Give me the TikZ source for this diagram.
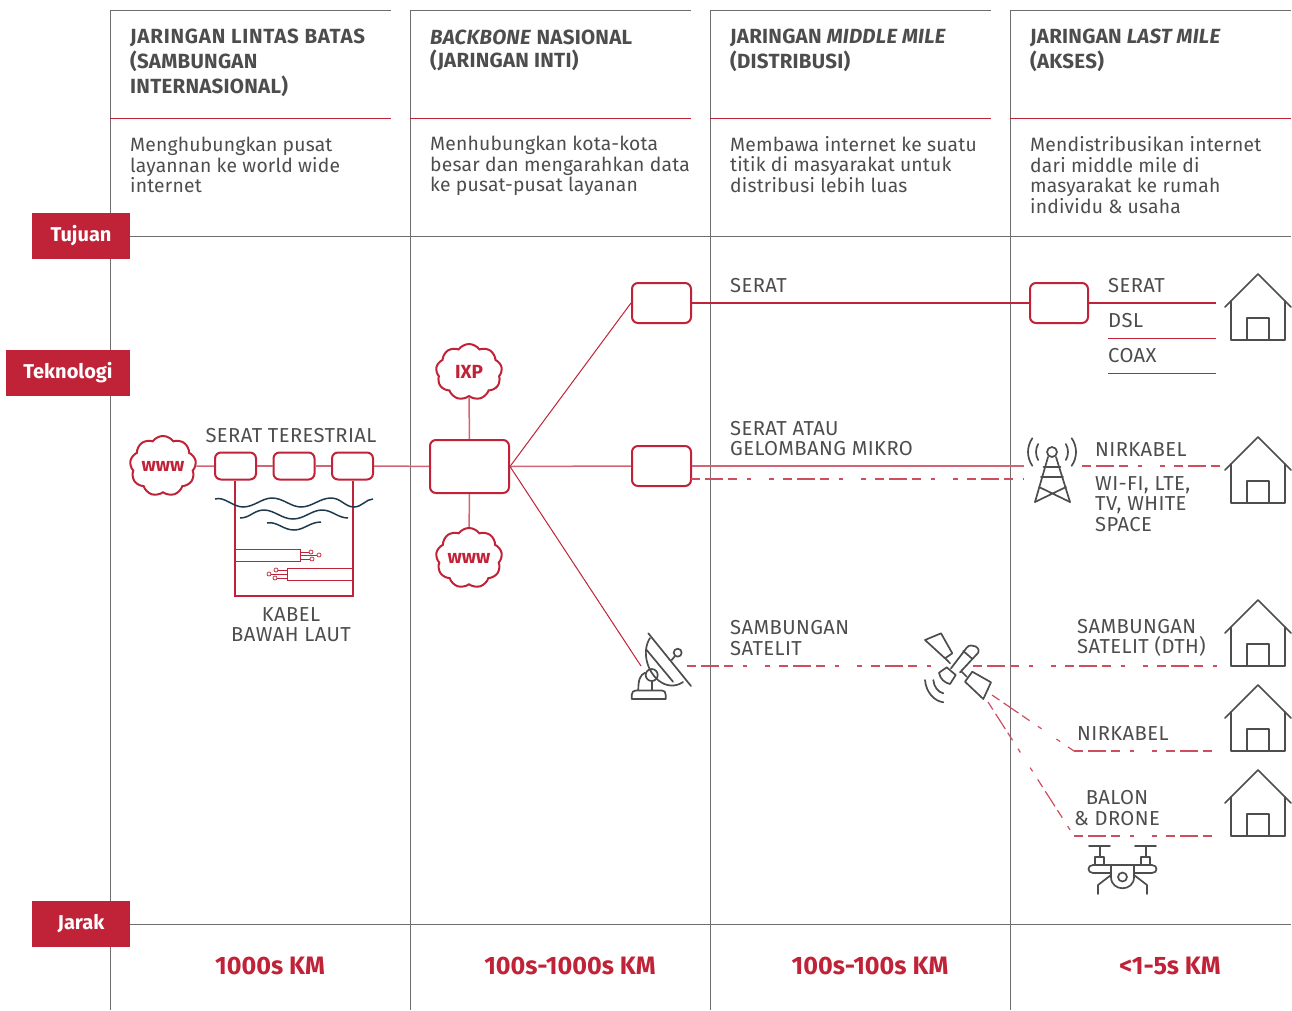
\documentclass[tikz,border=0pt]{standalone}
\usepackage{fontspec}
\setmainfont{Fira Sans}
\usetikzlibrary{shapes,positioning,calc}

\definecolor{tagred}{HTML}{C02237}
\definecolor{gridgray}{HTML}{6E6E6E}
\definecolor{icongray}{HTML}{4D4D4D}
\definecolor{wavenavy}{HTML}{1F3A4D}

\tikzset{
    grid/.style={gridgray, line width=0.9pt},
    thinred/.style={tagred, line width=1pt},
    palered/.style={tagred!70, line width=1.5pt},
    fibre/.style={tagred, line width=2pt},
    wireless/.style={tagred!80, line width=1.2pt, dash pattern=on 9pt off 5pt on 18pt off 4.5pt on 9pt off 10pt on 4.5pt off 18pt on 4.5pt off 9.5pt},
    wave/.style={wavenavy, line width=1.5pt},
    icon/.style={icongray, line width=1.7pt, line cap=round, line join=round},
    tag/.style={fill=tagred, text=white, font=\fontsize{20}{22}\selectfont\bfseries, inner sep=0pt, minimum height=46pt},
    head/.style={anchor=west, inner sep=0pt, align=left, text=icongray, font=\fontsize{20.5}{25}\selectfont\bfseries\addfontfeatures{LetterSpace=1.2}},
    desc/.style={anchor=west, inner sep=0pt, align=left, text=icongray, font=\fontsize{19.3}{20.7}\selectfont\addfontfeatures{LetterSpace=1}},
    lbl/.style={anchor=west, inner sep=0pt, yshift=-1pt, align=left, text=icongray, font=\fontsize{20.2}{20.7}\selectfont\addfontfeatures{LetterSpace=2}},
    clbl/.style={lbl, anchor=center, align=center},
    km/.style={inner sep=0pt, text=tagred, font=\fontsize{25.2}{27}\selectfont\bfseries},
    hub/.style={draw=tagred, line width=2pt, rounded corners=6pt, inner sep=0pt},
    puff/.style={draw=tagred, line width=2pt, cloud, cloud puffs=9, cloud puff arc=110, aspect=1.15, inner sep=0pt,
        minimum width=66pt, minimum height=56pt, text=tagred, font=\fontsize{19}{21}\selectfont\bfseries},
    house/.pic={
        \draw[icon] (-33,33) -- (0,0) -- (33,33);
        \draw[icon] (-27,27) -- (-27,66) -- (27,66) -- (27,27);
        \draw[icon] (-11,66) -- (-11,44) -- (11,44) -- (11,66);
    }
}

\begin{document}
\begin{tikzpicture}[x=1pt,y=-1pt]
    \useasboundingbox (0,0) rectangle (1292,1010);

    % Column rules
    \draw[grid] (110.5,10) -- (110.5,1010);
    \draw[grid] (410.5,10) -- (410.5,1010);
    \draw[grid] (710.5,10) -- (710.5,1010);
    \draw[grid] (1010.5,10) -- (1010.5,1010);
    \draw[grid, line width=0.6pt] (110,10) -- (391,10);
    \draw[grid, line width=0.6pt] (410,10) -- (691,10);
    \draw[grid, line width=0.6pt] (710,10) -- (991,10);
    \draw[grid, line width=0.6pt] (1010,10) -- (1291,10);
    \draw[thinred] (110,118) -- (391,118);
    \draw[thinred] (410,118) -- (691,118);
    \draw[thinred] (710,118) -- (991,118);
    \draw[thinred] (1010,118) -- (1291,118);

    % Row tags
    \node[tag, minimum width=98pt] (tujuan) at (81,236) {Tujuan};
    \node[tag, minimum width=124pt] (teknologi) at (68,373) {Teknologi};
    \node[tag, minimum width=98pt] (jarak) at (81,924) {Jarak};
    \coordinate (tujuanEnd) at (1291,236);
    \coordinate (jarakEnd) at (1291,924);
    \draw[grid] (tujuan.east) -- (tujuanEnd);
    \draw[grid] (jarak.east) -- (jarakEnd);

    % Headings
    \node[head] (headA) at (130,63) {{\addfontfeatures{LetterSpace=3.8}JARINGAN LINTAS BATAS}\\(SAMBUNGAN\\INTERNASIONAL)};
    \node[head] (headB) at (430,50) {\textit{BACKBONE} NASIONAL\\[-2pt](JARINGAN INTI)};
    \node[head] (headC) at (730,50) {JARINGAN \textit{MIDDLE MILE}\\(DISTRIBUSI)};
    \node[head] (headD) at (1030,50) {JARINGAN \textit{LAST MILE}\\(AKSES)};

    % Descriptions
    \node[desc] (descA) at (130,165) {Menghubungkan pusat\\layannan ke world wide\\internet};
    \node[desc] (descB) at (430,166) {Menhubungkan kota-kota\\besar dan mengarahkan data\\ke pusat-pusat layanan};
    \node[desc] (descC) at (730,164.5) {Membawa internet ke suatu\\titik di masyarakat untuk\\distribusi lebih luas};
    \node[desc] (descD) at (1030,175) {Mendistribusikan internet\\dari middle mile di\\masyarakat ke rumah\\individu \& usaha};

    % Distances
    \node[km] (kmA) at (270,966) {1000s KM};
    \node[km] (kmB) at (570,966) {100s-1000s KM};
    \node[km] (kmC) at (870,966) {100s-100s KM};
    \node[km] (kmD) at (1170,966) {<1-5s KM};

    % Cross-border chain
    \node[puff] (wwwA) at (163,466) {www};
    \node[hub, minimum width=41pt, minimum height=27pt] (landA) at (235.5,466) {};
    \node[hub, minimum width=41pt, minimum height=27pt] (landB) at (294,466) {};
    \node[hub, minimum width=41pt, minimum height=27pt] (landC) at (352.5,466) {};
    \node[clbl] (serTer) at (291,435) {SERAT TERESTRIAL};
    \node[clbl] (kabel) at (291,623.5) {KABEL\\BAWAH LAUT};
    \draw[palered] (wwwA) -- (landA);
    \draw[palered] (landA) -- (landB);
    \draw[palered] (landB) -- (landC);

    % Undersea loop
    \coordinate (seaA) at (235,596);
    \coordinate (seaB) at (352.5,596);
    \draw[fibre, line join=miter] (landA.south -| seaA) -- (seaA) -- (seaB) -- (landC.south);
    \draw[wave] (215,499) .. controls (224,496) and (233,507) .. (243,507) .. controls (254,507) and (262,498) .. (272,498) .. controls (283,498) and (291,507) .. (301,507) .. controls (312,507) and (320,498) .. (331,498) .. controls (341,498) and (345,507) .. (354,507) .. controls (362,507) and (366,499) .. (373,499);
    \draw[wave] (240,518) .. controls (250,518) and (254,510) .. (264,510) .. controls (274,510) and (282,519) .. (293,519) .. controls (304,519) and (312,510) .. (322,510) .. controls (332,510) and (338,518) .. (348,518);
    \draw[wave] (267,523) .. controls (277,521) and (283,530) .. (294,530) .. controls (304,530) and (310,522) .. (321,522);
    \draw[thinred] (235,549) rectangle (300.5,561);
    \draw[thinred] (287,568) rectangle (352.5,580.5);
    \draw[thinred, line width=0.7pt] (300.5,552) -- (309,552) (300.5,555) -- (317,555) (300.5,559) -- (310,559);
    \draw[thinred, line width=0.7pt] (287,570) -- (278,570) (287,574) -- (271,574) (287,578) -- (277,578);
    \draw[thinred, line width=0.7pt] (311,552) circle (2) (319,555) circle (2) (312,559) circle (2);
    \draw[thinred, line width=0.7pt] (276,570) circle (2) (269,574) circle (2) (275,578) circle (2);

    % Backbone
    \node[hub, minimum width=79pt, minimum height=53pt] (core) at (469.5,466.5) {};
    \node[puff] (ixp) at (469,372) {IXP};
    \node[puff] (wwwB) at (469,558) {www};
    \draw[palered] (landC) -- (core);
    \draw[palered] (ixp) -- (core);
    \draw[palered] (wwwB) -- (core);

    % Middle mile
    \node[hub, minimum width=59pt, minimum height=40pt] (midA) at (661.5,303) {};
    \node[hub, minimum width=59pt, minimum height=40pt] (midB) at (661.5,466) {};
    \coordinate (dishIn) at (641,666);
    \draw[thinred] (core.east) -- (midA.west);
    \draw[palered] (core.east) -- (midB.west);
    \draw[thinred] (core.east) -- (dishIn);
    \node[lbl] (serA) at (730,285) {SERAT};
    \node[lbl] (serB) at (730,437.5) {SERAT ATAU\\GELOMBANG MIKRO};
    \node[lbl] (samA) at (730,637) {SAMBUNGAN\\SATELIT};

    % Last mile fibre
    \node[hub, minimum width=58pt, minimum height=40pt] (lastA) at (1059,303) {};
    \coordinate (serEnd) at (1216,303);
    \coordinate (dslA) at (1108,338);
    \coordinate (dslB) at (1216,338);
    \coordinate (coaxA) at (1108,373);
    \coordinate (coaxB) at (1216,373);
    \draw[fibre] (midA) -- (lastA);
    \draw[fibre] (lastA) -- (serEnd);
    \draw[thinred] (dslA) -- (dslB);
    \draw[thinred] (coaxA) -- (coaxB);
    \node[lbl] (serC) at (1108,285) {SERAT};
    \node[lbl] (dsl) at (1108,320) {DSL};
    \node[lbl] (coax) at (1108,355) {COAX};

    % Tower links
    \coordinate (towerA) at (1024,466);
    \coordinate (towerB) at (1024,479);
    \coordinate (towerC) at (1082,466);
    \coordinate (homeB) at (1220,466);
    \coordinate (midBlow) at (691,479);
    \draw[palered] (midB) -- (towerA);
    \draw[wireless] (midBlow) -- (towerB);
    \draw[wireless] (towerC) -- (homeB);
    \node[lbl] (nirA) at (1095,449) {NIRKABEL};
    \node[lbl] (wifi) at (1095,503) {WI-FI, LTE,\\TV, WHITE\\SPACE};

    % Tower
    \draw[icon] (1052,452) circle (5);
    \draw[icon] (1048,457) -- (1035,502) (1056,457) -- (1070,502);
    \draw[icon] (1043.5,467) -- (1060.5,467) (1041,477) -- (1063,477);
    \draw[icon] (1039,487) -- (1070,502) (1066,487) -- (1035,502);
    \draw[icon] (1052,452) ++(150:16) arc (150:210:16);
    \draw[icon] (1052,452) ++(145:24) arc (145:215:24);
    \draw[icon] (1052,452) ++(30:16) arc (30:-30:16);
    \draw[icon] (1052,452) ++(35:24) arc (35:-35:24);

    % Dish
    \draw[icon] (648.3,633.3) -- (691,686);
    \draw[icon] (646.7,650) -- (673,681.7);
    \draw[icon] (650,638) .. controls (641,652) and (648,672) .. (658,680) .. controls (666,687) and (676,687) .. (683,682);
    \draw[icon] (677.7,652.7) circle (4);
    \draw[icon] (671.7,660) -- (675,656);
    \draw[icon] (651.7,675) circle (6);
    \draw[icon] (645,672.7) .. controls (640,675) and (638.3,680) .. (638.3,690);
    \draw[icon] (652.3,681) -- (652.3,690);
    \draw[icon] (631.7,699) -- (631.7,695) .. controls (631.7,692) and (633.5,690.5) .. (635.7,690.5) -- (662,690.5) .. controls (664.5,690.5) and (665.7,692) .. (665.7,695) -- (665.7,699) -- cycle;

    % Satellite links
    \coordinate (dishOut) at (687,666);
    \coordinate (satA) at (937,666);
    \coordinate (satB) at (973,666);
    \coordinate (homeC) at (1220,666);
    \coordinate (satC) at (992,695);
    \coordinate (kneeA) at (1074,751);
    \coordinate (homeD) at (1220,751);
    \coordinate (satD) at (988,702);
    \coordinate (kneeB) at (1074,836);
    \coordinate (homeE) at (1220,836);
    \draw[wireless] (dishOut) -- (satA);
    \draw[wireless] (satB) -- (homeC);
    \draw[wireless] (satC) -- (kneeA);
    \draw[wireless] (kneeA) -- (homeD);
    \draw[wireless] (satD) -- (kneeB);
    \draw[wireless] (kneeB) -- (homeE);
    \node[lbl] (samB) at (1077,637) {SAMBUNGAN\\SATELIT (DTH)};
    \node[lbl] (nirB) at (1077,733) {NIRKABEL};
    \node[clbl] (balon) at (1117,807) {BALON\\\& DRONE};

    % Satellite
    \draw[icon] (925,640) -- (941,633.3) -- (952.3,653.3) -- (945,658.3) -- cycle;
    \draw[icon] (965,681.7) -- (972.3,671.7) -- (991,682.3) -- (983.3,699) -- cycle;
    \draw[icon] (945,658) -- (950,663.3) (961.7,671.7) -- (966.7,676.7);
    \draw[icon] (951,668.3) -- (966.7,647.7) .. controls (971,642) and (982,648) .. (977.7,653.3) -- (960,672.3);
    \draw[icon] (963.3,651) -- (971.7,658.3);
    \draw[icon] (939,672.7) -- (946.7,667.3) -- (955.7,675) -- (950,684) .. controls (945,683) and (940,679) .. (939,672.7) -- cycle;
    \draw[icon] (933.3,680) .. controls (934,687) and (938,692) .. (943.3,693.3);
    \draw[icon] (925,680) .. controls (926,692) and (934,701) .. (943.3,702.3);

    % Drone
    \draw[icon] (1089,846) -- (1110,846) (1135,846) -- (1156,846);
    \draw[icon] (1100,846) -- (1100,857) (1146,846) -- (1146,857);
    \draw[icon] (1095,865) -- (1095,857) -- (1104,857) -- (1104,865);
    \draw[icon] (1141,865) -- (1141,857) -- (1150,857) -- (1150,865);
    \draw[icon] (1111,865) -- (1093,865) .. controls (1087,865) and (1087,873) .. (1093,873) -- (1111,873);
    \draw[icon] (1134,865) -- (1152,865) .. controls (1158,865) and (1158,873) .. (1152,873) -- (1134,873);
    \draw[icon] (1111,865) -- (1134,865);
    \draw[icon] (1111,865) -- (1111,877) .. controls (1111,892) and (1134,892) .. (1134,877) -- (1134,865);
    \draw[icon] (1122.5,877) circle (4.5);
    \draw[icon] (1111,875) -- (1098,885) -- (1098,894);
    \draw[icon] (1134,875) -- (1147,885) -- (1147,894);

    % Houses
    \pic at (1258,274) {house};
    \pic at (1258,437) {house};
    \pic at (1258,600) {house};
    \pic at (1258,685) {house};
    \pic at (1258,770) {house};
\end{tikzpicture}
\end{document}
